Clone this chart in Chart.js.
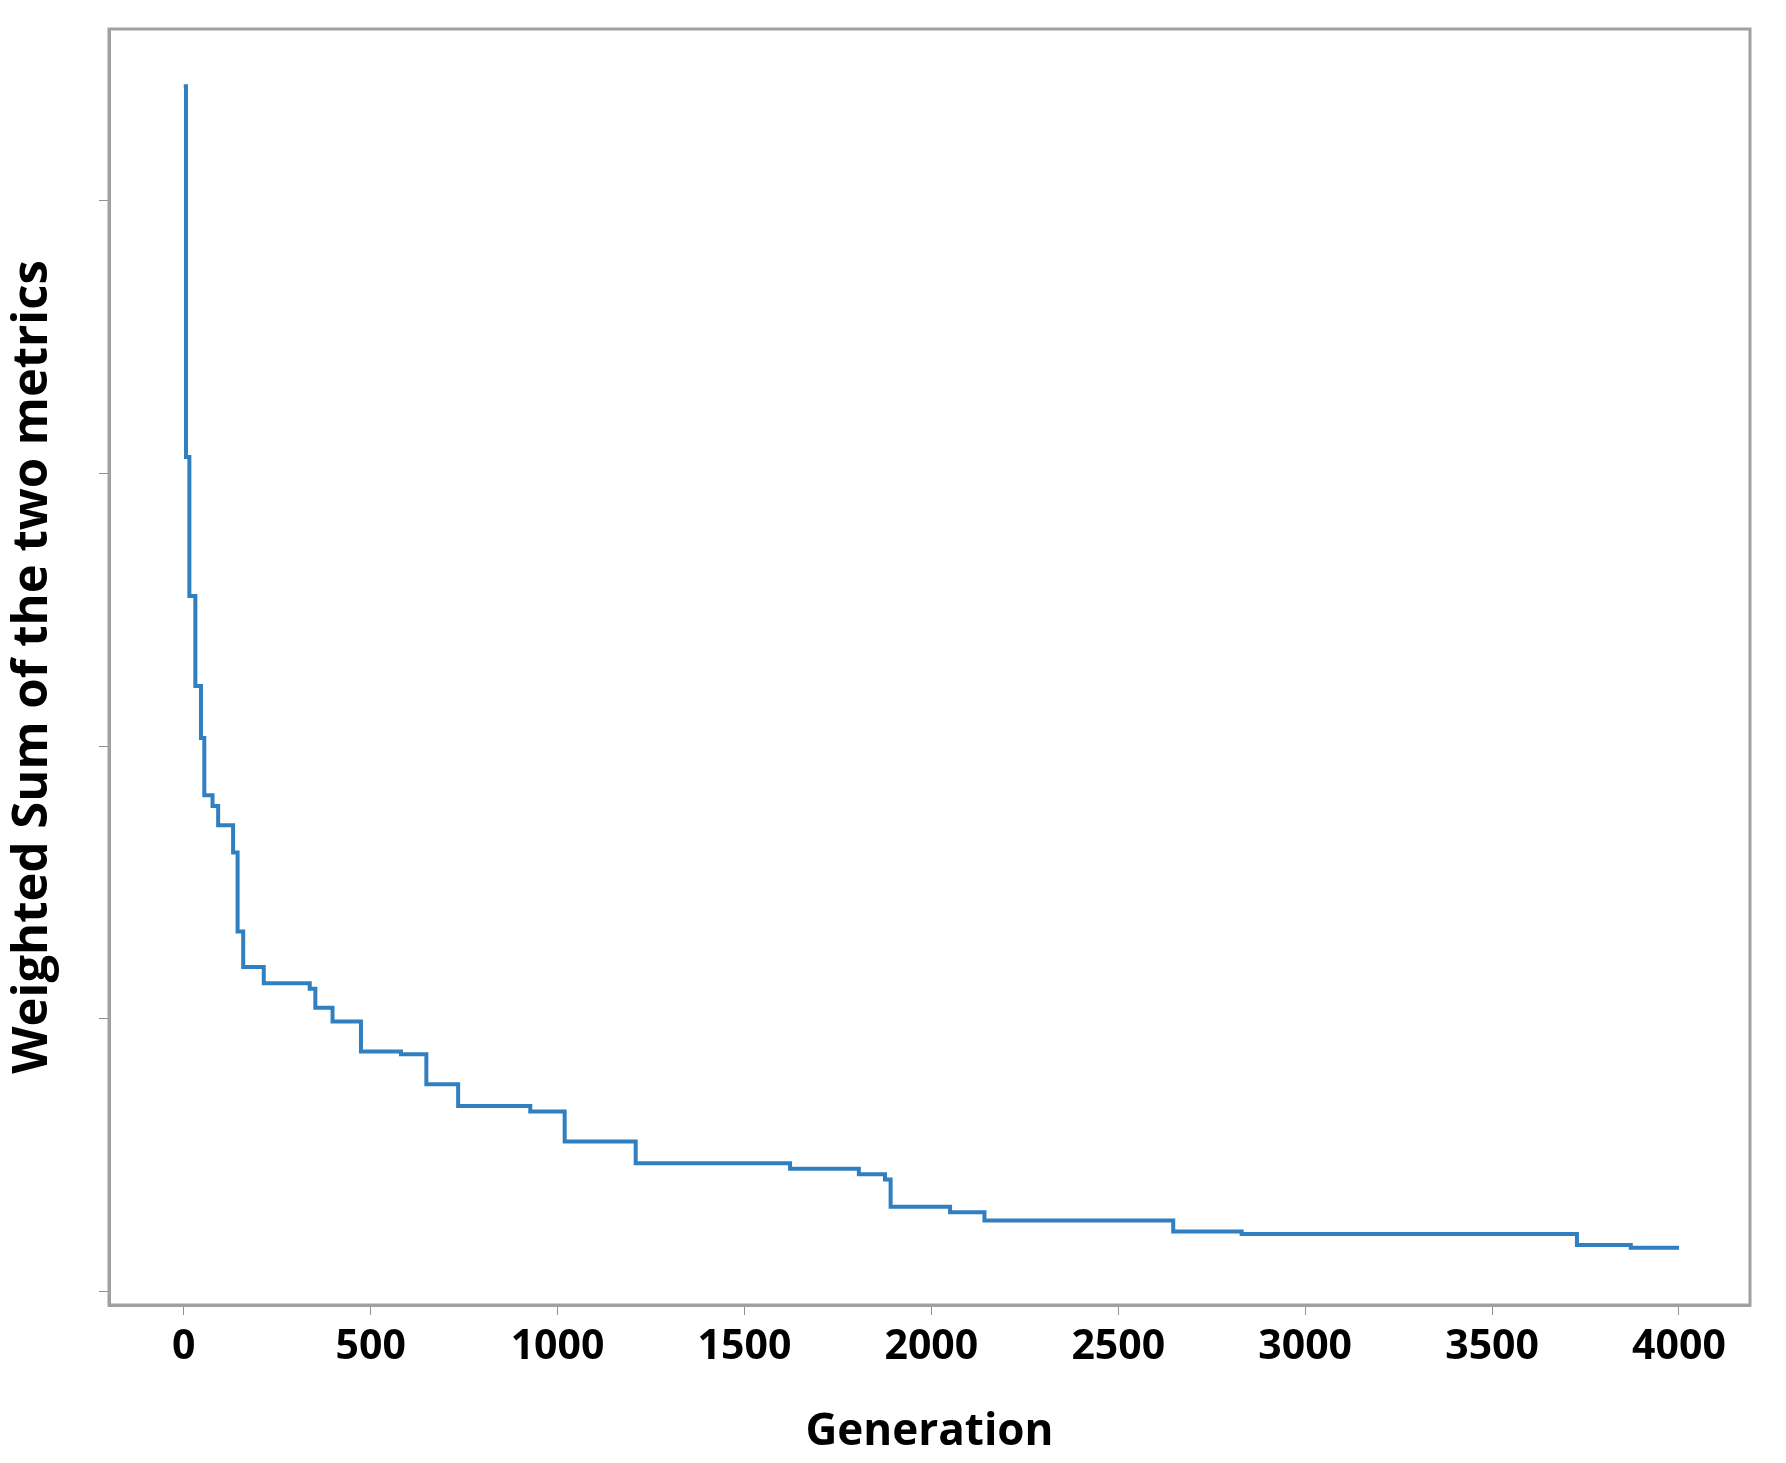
<!DOCTYPE html>
<html><head><meta charset="utf-8">
<script src="https://cdn.jsdelivr.net/npm/chart.js@4"></script>
<style>html,body{margin:0;padding:0;background:#fff}#w{width:1786px;height:1463px}</style>
</head><body><div id="w"><canvas id="c"></canvas></div>
<script>
const generations = [0,6,15,31,46,55,77,92,122,132,144,159,214,337,352,398,474,581,649,734,927,1019,1209,1585,1622,1806,1876,1891,2050,2142,2632,2647,2830,3718,3727,3871,4000];
const weightedSum = [4.42,3.06,2.55,2.22,2.03,1.82,1.78,1.71,1.71,1.61,1.32,1.19,1.13,1.11,1.04,0.99,0.88,0.87,0.76,0.68,0.66,0.55,0.47,0.47,0.45,0.43,0.41,0.31,0.29,0.26,0.26,0.22,0.21,0.21,0.17,0.16,0.16];
const xTicks = [0,500,1000,1500,2000,2500,3000,3500,4000];
const yTicks = [0,1,2,3,4];

const boxPlugin = {id:'box', afterDraw(ch){const a=ch.chartArea,c=ch.ctx;c.save();c.strokeStyle='#a0a0a0';c.lineWidth=3;c.strokeRect(a.left,a.top,a.right-a.left,a.bottom-a.top);c.restore();}};
new Chart(document.getElementById('c'), {
  type:'line',
  data:{datasets:[{data:generations.map((g,i)=>({x:g,y:weightedSum[i]})),borderColor:'#2f7fc1',borderWidth:4,pointRadius:0,stepped:true,fill:false}]},
  options:{responsive:true,maintainAspectRatio:false,animation:false,
    layout:{padding:{top:29,right:36,left:0,bottom:0}},
    plugins:{legend:{display:false},tooltip:{enabled:false}},
    scales:{
      x:{type:'linear',min:-200,max:4190,
        afterBuildTicks(s){s.ticks=xTicks.map(v=>({value:v}));},
        afterFit(s){s.height=158;},
        grid:{drawOnChartArea:false,tickLength:10,color:'#909090'},
        border:{color:'#a0a0a0',width:3},
        ticks:{color:'#000',font:{family:'Open Sans',weight:'bold',size:41},padding:8,maxRotation:0,callback:v=>String(v)},
        title:{display:true,text:'Generation',color:'#000',font:{family:'Open Sans',weight:'bold',size:44},padding:{top:-6}}},
      y:{type:'linear',min:-0.05,max:4.63,
        afterBuildTicks(s){s.ticks=yTicks.map(v=>({value:v}));},
        afterFit(s){s.width=109;},
        grid:{drawOnChartArea:false,tickLength:10,color:'#909090'},
        border:{color:'#a0a0a0',width:3},
        ticks:{callback:()=>'',padding:0},
        title:{display:true,text:'Weighted Sum of the two metrics',color:'#000',font:{family:'Open Sans',weight:'bold',size:49},padding:{bottom:14}}}
    }},
  plugins:[boxPlugin]
});
</script></body></html>
